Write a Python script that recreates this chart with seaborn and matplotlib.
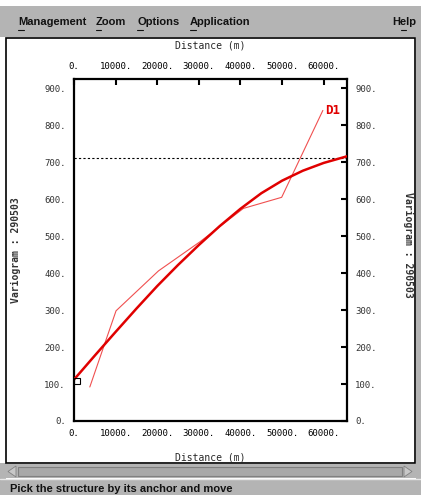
import numpy as np
import pandas as pd
import matplotlib
matplotlib.use("Agg")
import matplotlib.pyplot as plt
from matplotlib.patches import Rectangle, Polygon
from matplotlib.ticker import FixedLocator, FixedFormatter
import seaborn as sns

# ---------------- data ----------------
exp_dist = [3800, 10100, 20300, 30300, 40700, 49900, 59800]
exp_gamma = [92, 298, 406, 485, 575, 605, 840]

model_dist = [0, 5000, 10000, 15000, 20000, 25000, 30000, 35000, 40000,
              45000, 50000, 55000, 60000, 65000, 65600]
model_gamma = [112, 177, 241, 304, 365, 422, 476, 527, 574,
               616, 650, 677, 698, 714, 716]

sill = 711
anchor = (700, 108)

x_ticks = [0, 10000, 20000, 30000, 40000, 50000, 60000]
x_tick_labels = ["0.", "10000.", "20000.", "30000.", "40000.", "50000.", "60000."]
y_ticks = [0, 100, 200, 300, 400, 500, 600, 700, 800, 900]
y_tick_labels = ["0.", "100.", "200.", "300.", "400.", "500.", "600.", "700.", "800.", "900."]

menu_items = ["Management", "Zoom", "Options", "Application"]
menu_x = [18, 96, 137, 190]
status_text = "Pick the structure by its anchor and move"
y_label = "Variogram : 290503"
x_label = "Distance (m)"
curve_label = "D1"

# ---------------- figure ----------------
sns.set_style("white")
plt.rcParams['font.family'] = ['DejaVu Sans Mono', 'DejaVu Sans']

W, H = 421, 495
fig = plt.figure(figsize=(W / 100, H / 100), dpi=100)
fig.patch.set_facecolor("white")

def fx(x):
    return x / W

def fy(y):
    return 1 - y / H

def rect(x0, y0, x1, y1, **kw):
    r = Rectangle((fx(x0), fy(y1)), fx(x1) - fx(x0), fy(y0) - fy(y1),
                  transform=fig.transFigure, **kw)
    fig.add_artist(r)

gray = "#b4b4b4"
# menu bar
rect(0, 6, 421, 37, facecolor=gray, edgecolor="none")
for name, xm in zip(menu_items, menu_x):
    fig.text(fx(xm), fy(22), name, family="Liberation Sans", fontsize=8, fontweight="bold",
             va="center", ha="left", color="#111111")
fig.text(fx(416), fy(22), "Help", family="Liberation Sans", fontsize=8, fontweight="bold",
         va="center", ha="right", color="#111111")
# underline first letters
for xm, w in zip(menu_x + [401], [6, 5, 6, 6, 5]):
    fig.add_artist(plt.Line2D([fx(xm), fx(xm + w)], [fy(30), fy(30)], color="#111111",
                              lw=0.8, transform=fig.transFigure))

# right vertical scrollbar
rect(416, 37, 421, 481, facecolor=gray, edgecolor="none")
# left strip
rect(0, 463, 6, 495, facecolor=gray, edgecolor="none")
# bottom scrollbar
rect(0, 464, 416, 478, facecolor=gray, edgecolor="none")
rect(18, 467, 402, 476, facecolor="#a8a8a8", edgecolor="#808080", lw=0.8)
fig.add_artist(Polygon([[fx(16), fy(466)], [fx(16), fy(477)], [fx(8), fy(471.5)]],
                       closed=True, transform=fig.transFigure, facecolor="#c8c8c8",
                       edgecolor="#808080", lw=0.6))
fig.add_artist(Polygon([[fx(404), fy(466)], [fx(404), fy(477)], [fx(412), fy(471.5)]],
                       closed=True, transform=fig.transFigure, facecolor="#c8c8c8",
                       edgecolor="#808080", lw=0.6))
# status bar
rect(0, 479, 421, 495, facecolor=gray, edgecolor="none")
fig.add_artist(plt.Line2D([0, 1], [fy(478.5), fy(478.5)], color="#e8e8e8", lw=1,
                          transform=fig.transFigure))
fig.text(fx(10), fy(489), status_text, family="Liberation Sans", fontsize=8, fontweight="bold",
         va="center", ha="left", color="#111111")
# canvas border
rect(6, 38, 415, 463, facecolor="none", edgecolor="black", lw=1.2)

# ---------------- axes ----------------
ax = fig.add_axes([fx(74), fy(421), fx(347) - fx(74), fy(79) - fy(421)])
ax.set_facecolor("white")

df_model = pd.DataFrame({"dist": model_dist, "gamma": model_gamma})
df_exp = pd.DataFrame({"dist": exp_dist, "gamma": exp_gamma})

ax.axhline(sill, color="black", lw=0.8, ls=(0, (2, 2)), zorder=1)
sns.lineplot(data=df_exp, x="dist", y="gamma", ax=ax, color="#f05050", lw=0.8,
             sort=False, estimator=None, zorder=2)
sns.lineplot(data=df_model, x="dist", y="gamma", ax=ax, color="#e00000", lw=1.8,
             sort=False, estimator=None, zorder=3)
ax.plot([anchor[0]], [anchor[1]], marker="s", ms=5, mfc="none", mec="black", mew=0.8,
        zorder=4, clip_on=False)
ax.text(exp_dist[-1] + 600, exp_gamma[-1], curve_label, color="#e00000", fontsize=9,
        fontweight="bold", ha="left", va="center")

ax.set_xlim(0, 65600)
ax.set_ylim(0, 925)

ax.xaxis.set_major_locator(FixedLocator(x_ticks))
ax.xaxis.set_major_formatter(FixedFormatter(x_tick_labels))
ax.yaxis.set_major_locator(FixedLocator(y_ticks))
ax.yaxis.set_major_formatter(FixedFormatter(y_tick_labels))

ax.tick_params(axis="both", which="major", direction="in", length=4, width=1.5,
               top=True, right=True, labeltop=True, labelright=True,
               labelsize=6.5, colors="black", pad=6)
for lab in ax.get_yticklabels():
    lab.set_color("#333333")
for sp in ax.spines.values():
    sp.set_visible(True)
    sp.set_linewidth(1.6)
    sp.set_color("black")

ax.set_xlabel("")
ax.set_ylabel("")

fig.text(fx(210), fy(46), x_label, fontsize=7, ha="center", va="center")
fig.text(fx(210), fy(457), x_label, fontsize=7, ha="center", va="center")
fig.text(fx(16), fy(250), y_label, fontsize=7, ha="center", va="center", rotation=90,
         fontweight="bold", color="#333333")
fig.text(fx(408), fy(245), y_label, fontsize=7, ha="center", va="center", rotation=270,
         fontweight="bold", color="#333333")

fig.savefig("out.png", dpi=100, facecolor=fig.get_facecolor())
